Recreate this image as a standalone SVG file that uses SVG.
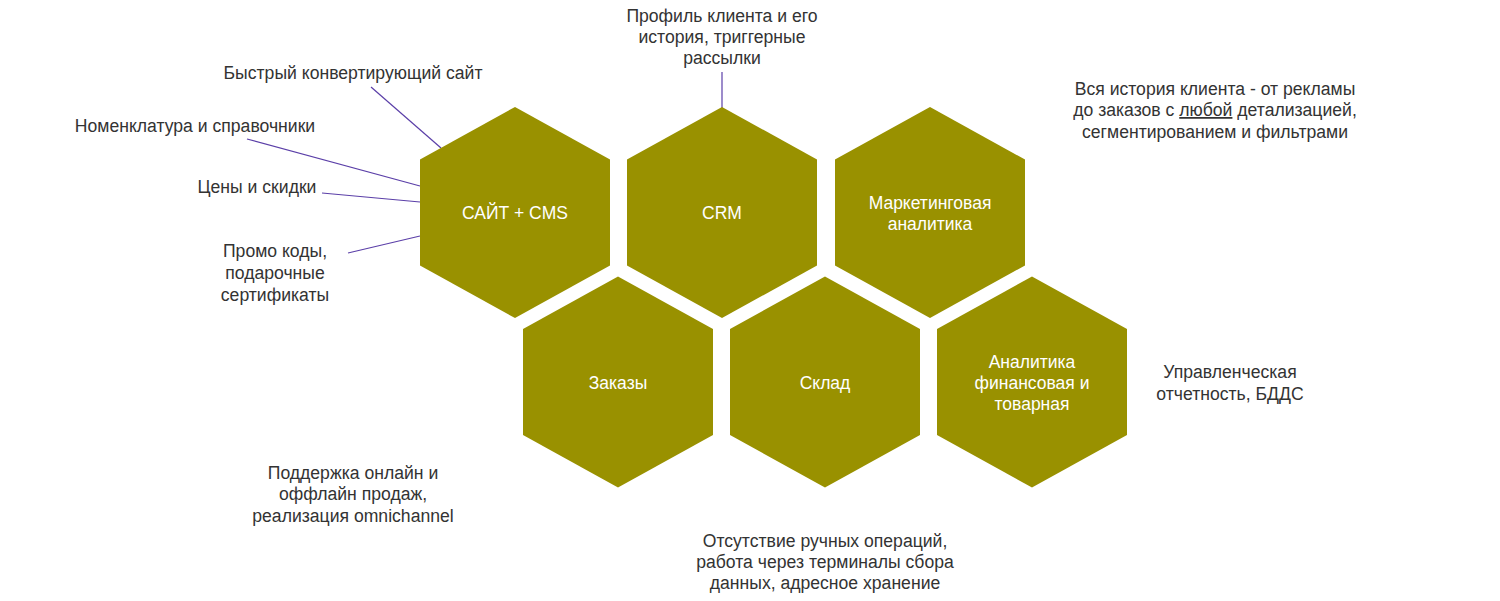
<svg xmlns="http://www.w3.org/2000/svg" width="1500" height="601" viewBox="0 0 1500 601">
<defs>
<polygon id="hex" points="0,-105.5 95,-53 95,53 0,105.5 -95,53 -95,-53"/>
</defs>
<style>
.hex{fill:#999100}
.ht{font-family:"Liberation Sans",Arial,sans-serif;font-size:17.5px;fill:#ffffff;text-anchor:middle}
.lb{font-family:"Liberation Sans",Arial,sans-serif;font-size:17.6px;fill:#333333;text-anchor:middle}
.ln{stroke:#5b3fa8;stroke-width:1.2;fill:none}
</style>
<rect width="1500" height="601" fill="#ffffff"/>
<g id="connectors">
<line class="ln" x1="371" y1="87" x2="441" y2="148"/>
<line class="ln" x1="247" y1="139" x2="420" y2="186"/>
<line class="ln" x1="322" y1="193" x2="420" y2="202"/>
<line class="ln" x1="348" y1="253" x2="420" y2="236"/>
<line class="ln" x1="722" y1="72" x2="722" y2="108"/>
</g>
<g id="node-site">
<use href="#hex" class="hex" x="515" y="212.5"/>
<text class="ht" x="515" y="219">САЙТ + CMS</text>
</g>
<g id="node-crm">
<use href="#hex" class="hex" x="722" y="212.5"/>
<text class="ht" x="722" y="219">CRM</text>
</g>
<g id="node-marketing">
<use href="#hex" class="hex" x="930" y="212.5"/>
<text class="ht" x="930" y="209">Маркетинговая</text>
<text class="ht" x="930" y="230">аналитика</text>
</g>
<g id="node-orders">
<use href="#hex" class="hex" x="618" y="382"/>
<text class="ht" x="618" y="389">Заказы</text>
</g>
<g id="node-warehouse">
<use href="#hex" class="hex" x="825" y="382"/>
<text class="ht" x="825" y="389">Склад</text>
</g>
<g id="node-analytics">
<use href="#hex" class="hex" x="1032" y="382"/>
<text class="ht" x="1032" y="368">Аналитика</text>
<text class="ht" x="1032" y="389">финансовая и</text>
<text class="ht" x="1032" y="410">товарная</text>
</g>
<g id="labels">
<text class="lb" x="353" y="79">Быстрый конвертирующий сайт</text>
<text class="lb" x="195" y="132">Номенклатура и справочники</text>
<text class="lb" x="257" y="193">Цены и скидки</text>
<text class="lb" x="275" y="257">Промо коды,</text>
<text class="lb" x="275" y="279">подарочные</text>
<text class="lb" x="275" y="301">сертификаты</text>
<text class="lb" x="722" y="22">Профиль клиента и его</text>
<text class="lb" x="722" y="43">история, триггерные</text>
<text class="lb" x="722" y="64">рассылки</text>
<text class="lb" x="1215" y="95">Вся история клиента - от рекламы</text>
<text class="lb" x="1215" y="116">до заказов с <tspan text-decoration="underline">любой</tspan> детализацией,</text>
<text class="lb" x="1215" y="138">сегментированием и фильтрами</text>
<text class="lb" x="1230" y="378">Управленческая</text>
<text class="lb" x="1230" y="400">отчетность, БДДС</text>
<text class="lb" x="353" y="479">Поддержка онлайн и</text>
<text class="lb" x="353" y="500">оффлайн продаж,</text>
<text class="lb" x="353" y="522">реализация omnichannel</text>
<text class="lb" x="825" y="547">Отсутствие ручных операций,</text>
<text class="lb" x="825" y="568">работа через терминалы сбора</text>
<text class="lb" x="825" y="589">данных, адресное хранение</text>
</g>
</svg>
